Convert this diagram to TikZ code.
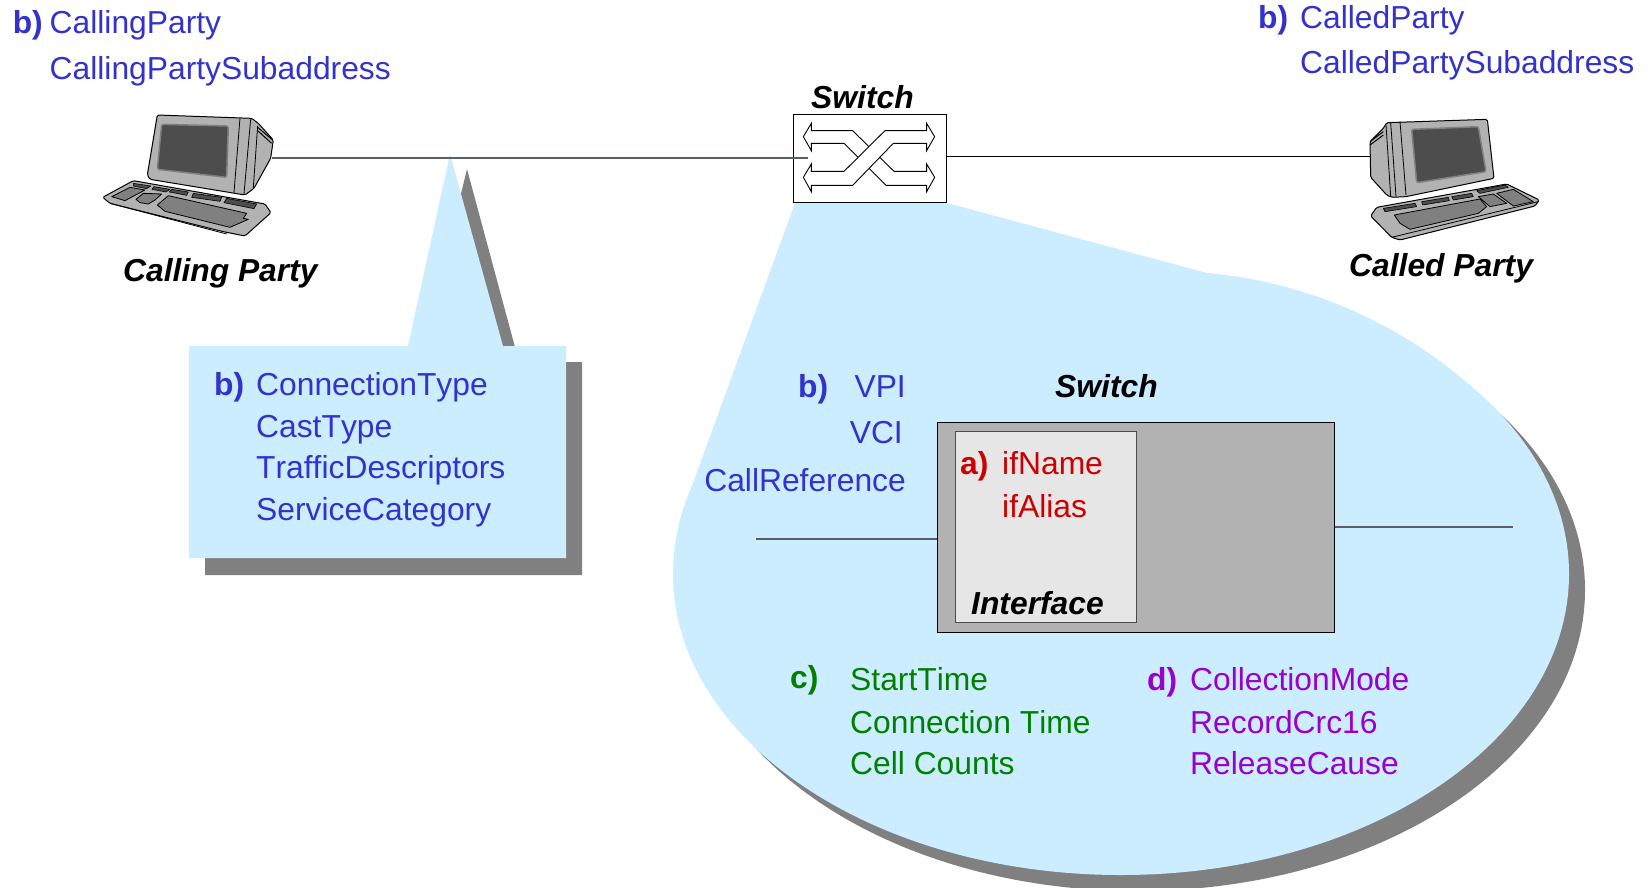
\documentclass[tikz,border=0pt]{standalone}
\usepackage{fontspec}
\setmainfont[Kerning=Off,Ligatures=NoCommon]{Liberation Sans}
\definecolor{calloutblue}{HTML}{CCECFF}
\definecolor{shadowgray}{HTML}{808080}
\definecolor{boxgray}{HTML}{B2B2B2}
\definecolor{ifgray}{HTML}{E6E6E6}
\definecolor{screengray}{HTML}{4D4D4D}
\definecolor{keygray}{HTML}{808080}
\definecolor{wireGray}{HTML}{5A5F66}
\definecolor{txtblue}{HTML}{3333CC}
\definecolor{txtred}{HTML}{CC0000}
\definecolor{txtgreen}{HTML}{008000}
\definecolor{txtpurple}{HTML}{9900CC}
\newcommand{\bigfont}{\fontsize{31.8}{36}\selectfont}
\tikzset{
  lbl/.style={anchor=base west,inner sep=0pt,font=\bigfont},
  lblr/.style={anchor=base east,inner sep=0pt,font=\bigfont},
  ttl/.style={lbl,font=\bigfont\bfseries\itshape,text=black},
  mark blue/.style={lbl,font=\bigfont\bfseries,text=txtblue},
  plain blue/.style={lbl,text=txtblue},
  plain blue r/.style={lblr,text=txtblue},
  wire/.style={draw=wireGray,line width=1.3pt},
  wireblack/.style={draw=black,line width=1pt},
  pcbody/.style={fill=boxgray,draw=black,line width=1pt,line join=round,rounded corners=1.5pt},
  pcscreen/.style={fill=screengray,draw=keygray,line width=1.5pt,line join=round,rounded corners=1.5pt},
  pckey/.style={fill=keygray,draw=black,line width=0.8pt,line join=round},
  pcdark/.style={fill=screengray,draw=black,line width=0.6pt,line join=round},
  band/.style={fill=white,draw=black,line width=0.9pt,line join=miter},
}
\begin{document}
\begin{tikzpicture}[x=1pt,y=-1pt]
\clip (0,0) rectangle (1651,887);
\fill[white] (0,0) rectangle (1651,887);

% callout shadows
\fill[shadowgray] (467,169) -- (519,362) -- (582,362) -- (582,575) -- (205,575) -- (205,362) -- (420,362) -- cycle;
\fill[shadowgray] (1137,590) ellipse [x radius=448pt,y radius=301pt];

% callouts
\fill[calloutblue] (450,154) -- (503,346) -- (566,346) -- (566,558) -- (189,558) -- (189,346) -- (408,346) -- cycle;
\fill[calloutblue] (1121,574) ellipse [x radius=448pt,y radius=301pt];
\fill[calloutblue] (795,203) -- (947,203) -- (1207,273)
   .. controls (1290,280) and (1405,315) .. (1500,414)
   -- (1121,574) -- (677,537)
   .. controls (680,515) and (686,500) .. (693,483) -- cycle;

% top switch
\node[draw=black,fill=white,line width=1pt,minimum width=153pt,minimum height=88pt,inner sep=0pt] (sw) at (869.5,158) {};
\begin{scope}[shift={(770,90)},x=0.3333pt,y=-0.3333pt]
  \path[band] (124,122) -- (248,122) -- (372,244) -- (470,244) -- (470,222) -- (494,262) -- (470,305) -- (470,286) -- (348,286) -- (222,160) -- (124,160) -- (124,182) -- (100,140) -- (124,100) -- cycle;
  \path[band] (124,244) -- (222,244) -- (345,122) -- (470,122) -- (470,100) -- (494,140) -- (470,182) -- (470,160) -- (370,160) -- (248,286) -- (124,286) -- (124,305) -- (100,262) -- (124,222) -- cycle;
\end{scope}

% wires
\coordinate (pcLport) at (272,158);
\coordinate (swIn) at (808,158);
\coordinate (swOut) at (946,156);
\coordinate (pcRport) at (1370,156);
\draw[wire] (pcLport) -- (swIn);
\draw[wireblack] (swOut) -- (pcRport);

% left computer
\begin{scope}[shift={(80,90)},x=0.3333pt,y=-0.3333pt]
  \path[pcbody] (232,75) -- (515,85) -- (535,100) -- (580,150) -- (572,205) -- (522,295) -- (495,315) -- (465,310) -- (210,268) -- (202,255) -- cycle;
  \draw[black,line width=0.8pt] (480,85) -- (462,308) (512,88) -- (492,312) (533,108) -- (520,293);
  \draw[black,line width=1pt] (533,112) -- (578,150) (533,122) -- (575,160);
  \path[pcscreen] (245,103) -- (445,108) -- (440,262) -- (232,238) -- cycle;
  \path[pcbody] (68,322) -- (160,272) -- (555,342) -- (573,368) -- (495,438) -- (430,425) -- (90,340) -- cycle;
  \path[pcdark] (160,280) -- (212,288) -- (200,296) -- (160,288) -- cycle;
  \path[pcdark] (222,290) -- (270,298) -- (258,306) -- (216,298) -- cycle;
  \path[pcdark] (275,298) -- (325,306) -- (320,316) -- (268,306) -- cycle;
  \path[pcdark] (340,310) -- (425,322) -- (420,334) -- (335,322) -- cycle;
  \path[pcdark] (440,325) -- (530,342) -- (522,356) -- (432,338) -- cycle;
  \path[pckey] (95,320) -- (150,292) -- (195,300) -- (135,332) -- cycle;
  \path[pckey] (168,328) -- (190,310) -- (245,312) -- (225,330) -- (205,342) -- (180,338) -- cycle;
  \path[pckey] (232,345) -- (265,317) -- (500,370) -- (490,385) -- (505,388) -- (450,412) -- (255,364) -- cycle;
  \draw[black,line width=0.8pt] (90,340) -- (440,432);
\end{scope}

% right computer
\begin{scope}[shift={(1350,100)},x=0.3333pt,y=-0.3333pt]
  \path[pcbody] (110,68) -- (412,58) -- (432,235) -- (168,290) -- (125,292) -- (110,285) -- (62,232) -- (60,125) -- (100,85) -- cycle;
  \draw[black,line width=0.8pt] (122,68) -- (138,290) (150,65) -- (168,285) (108,75) -- (122,288);
  \draw[black,line width=1pt] (60,125) -- (100,95) (60,135) -- (100,105);
  \path[pcscreen] (185,88) -- (385,80) -- (408,215) -- (200,248) -- cycle;
  \path[pcbody] (62,348) -- (80,322) -- (470,252) -- (568,300) -- (555,318) -- (150,420) -- (125,412) -- cycle;
  \path[pcdark] (100,325) -- (195,310) -- (200,320) -- (105,335) -- cycle;
  \path[pcdark] (215,305) -- (295,292) -- (298,302) -- (218,315) -- cycle;
  \path[pcdark] (305,290) -- (365,280) -- (370,290) -- (310,300) -- cycle;
  \path[pcdark] (380,272) -- (465,255) -- (475,262) -- (390,280) -- cycle;
  \path[pckey] (133,345) -- (390,297) -- (410,320) -- (385,340) -- (180,388) -- (150,370) -- cycle;
  \path[pckey] (385,290) -- (430,282) -- (470,310) -- (420,320) -- cycle;
  \path[pckey] (440,280) -- (490,268) -- (550,305) -- (490,318) -- cycle;
  \draw[black,line width=0.8pt] (125,412) -- (565,305);
\end{scope}

% zoomed switch
\node[draw=black,fill=boxgray,line width=1pt,minimum width=397pt,minimum height=210pt,inner sep=0pt] (bigsw) at (1135.5,527) {};
\node[draw=black!70,fill=ifgray,line width=1pt,minimum width=181pt,minimum height=191pt,inner sep=0pt] (ifbox) at (1045.5,526.5) {};
\coordinate (inL) at (756,539);
\coordinate (inR) at (1513,527);
\draw[wire] (inL) -- (bigsw.west |- inL);
\draw[wire] (bigsw.east |- inR) -- (inR);

% top texts
\node[mark blue] (bL) at (12.6,33.7) {b)};
\node[plain blue] (tL1) at (49.5,33.7) {CallingParty};
\node[plain blue] (tL2) at (49.5,79) {CallingPartySubaddress};
\node[mark blue] (bR) at (1258,28.4) {b)};
\node[plain blue] (tR1) at (1300,28.4) {CalledParty};
\node[plain blue] (tR2) at (1300,73.8) {CalledPartySubaddress};
\node[ttl] (tSw) at (811,108.5) {Switch};
\node[ttl] (tCalling) at (123,281) {Calling Party};
\node[ttl] (tCalled) at (1349,276) {Called Party};

% left callout texts
\node[mark blue] (bC) at (214,395) {b)};
\node[plain blue] (c1) at (256,395) {ConnectionType};
\node[plain blue] (c2) at (256,437) {CastType};
\node[plain blue] (c3) at (256,478) {TrafficDescriptors};
\node[plain blue] (c4) at (256,520) {ServiceCategory};

% big callout texts
\node[mark blue] (bV) at (798,397) {b)};
\node[plain blue r] (v1) at (906,397) {VPI};
\node[plain blue r] (v2) at (903,443.5) {VCI};
\node[plain blue r] (v3) at (906,491) {CallReference};
\node[ttl] (tSw2) at (1055,397) {Switch};
\node[lbl,font=\bigfont\bfseries,text=txtred] (aM) at (960,474) {a)};
\node[lbl,text=txtred] (a1) at (1002,474) {ifName};
\node[lbl,text=txtred] (a2) at (1002,517) {ifAlias};
\node[ttl] (tIf) at (971,614) {Interface};
\node[lbl,font=\bigfont\bfseries,text=txtgreen] (cM) at (790,688) {c)};
\node[lbl,text=txtgreen] (g1) at (850,690) {StartTime};
\node[lbl,text=txtgreen] (g2) at (850,733) {Connection Time};
\node[lbl,text=txtgreen] (g3) at (850,774) {Cell Counts};
\node[lbl,font=\bigfont\bfseries,text=txtpurple] (dM) at (1147,690) {d)};
\node[lbl,text=txtpurple] (p1) at (1190,690) {CollectionMode};
\node[lbl,text=txtpurple] (p2) at (1190,733) {RecordCrc16};
\node[lbl,text=txtpurple] (p3) at (1190,774) {ReleaseCause};
\end{tikzpicture}
\end{document}
